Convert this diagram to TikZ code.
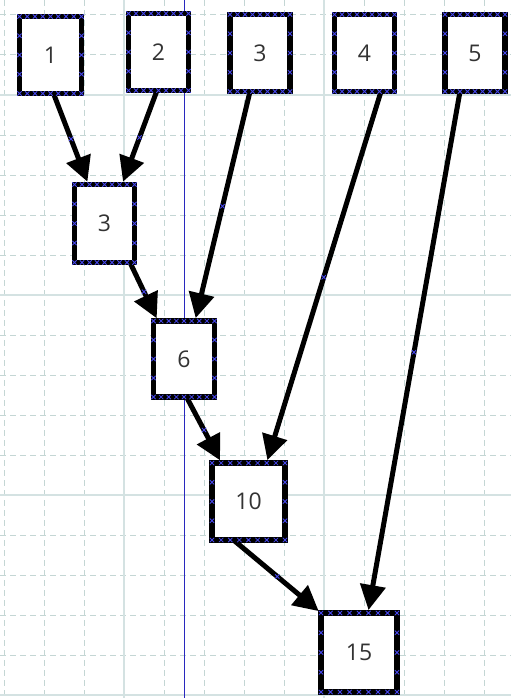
\documentclass[tikz,border=0pt]{standalone}
\usepackage{fontspec}
\setmainfont{Open Sans}
\usetikzlibrary{arrows.meta,calc}
\definecolor{gridminor}{RGB}{196,214,212}
\definecolor{gridmajor}{RGB}{212,226,226}
\definecolor{guideblue}{RGB}{40,40,190}
\definecolor{markblue}{RGB}{70,70,235}
\definecolor{numgrey}{RGB}{51,51,51}
\tikzset{
	box/.style={draw,line width=5.5pt,fill=white,outer sep=0pt,inner sep=0pt,
		minimum width=60pt,minimum height=77pt,text=numgrey,
		font=\fontsize{23}{27}\selectfont},
	edge/.style={line width=5pt,-{Triangle[length=25pt,width=25pt]},shorten >=3pt},
	hx/.pic={\draw[markblue,line width=0.8pt] (-2.2pt,-2.2pt) -- (2.2pt,2.2pt) (-2.2pt,2.2pt) -- (2.2pt,-2.2pt);}
}
\begin{document}
\begin{tikzpicture}[x=1pt,y=-1pt]
		\useasboundingbox (0,0) rectangle (511,698);
		\fill[white] (0,0) rectangle (511,698);
		% grid
		\foreach \gx in {4,44,...,484}
			\draw[gridminor,line width=1pt,dash pattern=on 6pt off 4pt] (\gx,0) -- (\gx,698);
		\foreach \gy in {15,55,...,695}
			\draw[gridminor,line width=1pt,dash pattern=on 6pt off 4pt] (0,\gy) -- (511,\gy);
		\foreach \gx in {124,324}
			\draw[gridmajor,line width=1.2pt] (\gx,0) -- (\gx,698);
		\foreach \gy in {95,295,495,695}
			\draw[gridmajor,line width=1.2pt] (0,\gy) -- (511,\gy);
		\draw[guideblue,line width=1.2pt] (184.5,0) -- (184.5,698);
		
		\node[box,minimum width=62pt] (n1) at (50.5,55) {1};
		\node[box] (n2) at (158.5,52) {2};
		\node[box] (n3) at (260,53) {3};
		\node[box] (n4) at (364.5,53) {4};
		\node[box] (n5) at (475,53) {5};
		
		\node[box,minimum height=78pt] (m3) at (104.5,223.5) {3};
		\node[box,minimum width=61pt,minimum height=76pt] (m6) at (184,359) {6};
		\node[box,minimum width=73pt] (m10) at (248.5,501.5) {10};
		\node[box,minimum width=76pt,minimum height=79pt] (m15) at (359,652.5) {15};
		
		\draw[edge] ([xshift=3pt]n1.south) -- coordinate[pos=.5] (e1) ([xshift=-16pt]m3.north);
		\draw[edge] ([xshift=-1.5pt]n2.south) -- coordinate[pos=.5] (e2) ([xshift=17.5pt]m3.north);
		\draw[edge] ([xshift=-10pt]n3.south) -- coordinate[pos=.5] (e3) ([xshift=11pt]m6.north);
		\draw[edge] ([xshift=25.5pt]m3.south) -- coordinate[pos=.5] (e4) ([xshift=-26pt]m6.north);
		\draw[edge] ([xshift=16.5pt]n4.south) -- coordinate[pos=.5] (e5) ([xshift=18pt]m10.north);
		\draw[edge] ([xshift=2.5pt]m6.south) -- coordinate[pos=.5] (e6) ([xshift=-27pt]m10.north);
		\draw[edge] ([xshift=-15pt]n5.south) -- coordinate[pos=.5] (e7) ([xshift=9pt]m15.north);
		\draw[edge] ([xshift=-15pt]m10.south) -- coordinate[pos=.5] (e8) (m15.north west);
		
		% connection markers
		\foreach \b in {n1,n2,n3,n4,n5,m3,m6,m10,m15}{
			\foreach \t in {0,0.125,...,1}{
				\pic at ($(\b.north west)!\t!(\b.north east)$) {hx};
				\pic at ($(\b.south west)!\t!(\b.south east)$) {hx};
			}
			\foreach \t in {0.25,0.5,0.75}{
				\pic at ($(\b.north west)!\t!(\b.south west)$) {hx};
				\pic at ($(\b.north east)!\t!(\b.south east)$) {hx};
			}
		}
		\foreach \e in {e1,e2,e3,e4,e5,e6,e7,e8}
			\pic at (\e) {hx};
\end{tikzpicture}
\end{document}
